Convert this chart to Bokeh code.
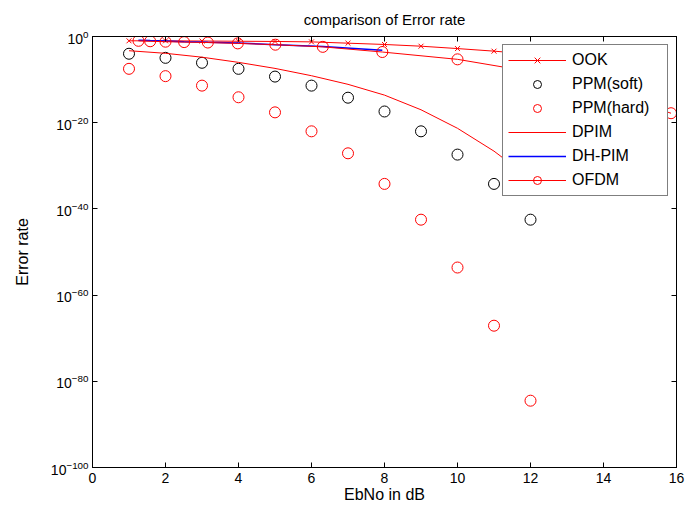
import numpy as np
from bokeh.plotting import figure
from bokeh.models import FixedTicker, LogAxis, LinearAxis, Legend, LegendItem
from bokeh.embed import file_html
from bokeh.resources import INLINE

# ---- data (exponents of 10) ----
ebno = [1, 2, 3, 4, 5, 6, 7, 8, 9, 10, 11, 12]
ppm_soft_exp = [-4.0, -4.95, -6.1, -7.5, -9.3, -11.4, -14.2, -17.4, -22.0, -27.4, -34.2, -42.5]
ppm_hard_exp = [-7.5, -9.2, -11.4, -14.1, -17.6, -22.0, -27.1, -34.2, -42.5, -53.6, -67.1, -84.5]
dpim_exp = [-3.3, -3.9, -4.8, -6.0, -7.4, -9.1, -11.1, -13.6, -17.0, -21.3, -26.6, -33.0]
ook_exp = [-1.0, -1.0, -1.05, -1.1, -1.15, -1.25, -1.55, -1.85, -2.25, -2.8, -3.4, -4.1]
ofdm_x = [1.26, 1.58, 2.0, 2.51, 3.16, 3.98, 5.01, 6.31, 7.94, 10.0, 12.59, 15.85]
ofdm_exp = [-1.0, -1.1, -1.2, -1.3, -1.4, -1.6, -1.9, -2.4, -3.6, -5.3, -9.0, -17.8]
dhpim_x = [1.26, 1.58, 2.0, 2.51, 3.16, 3.98, 5.01, 6.31, 7.94]
dhpim_exp = [-0.85, -0.95, -1.05, -1.2, -1.35, -1.5, -1.9, -2.3, -3.2]

x_ticks = [0, 2, 4, 6, 8, 10, 12, 14, 16]
y_tick_exps = [-100, -80, -60, -40, -20, 0]

def pw(e):
    return list(10.0 ** np.array(e, dtype=float))

FONT = "Liberation Sans"
FS = "14px"
FL = "16px"

p = figure(width=696, height=511, x_range=(0, 16), y_range=(1e-100, 1.0),
           y_axis_type="log", output_backend="svg", toolbar_location=None,
           title="comparison of Error rate",
           min_border_left=92, min_border_right=20, min_border_top=36, min_border_bottom=44)
p.background_fill_color = "white"
p.border_fill_color = "white"
p.outline_line_color = "black"
p.grid.visible = False

p.title.align = "center"
p.title.text_font = FONT
p.title.text_font_size = "15px"
p.title.text_font_style = "normal"
p.title.text_color = "black"
p.title.standoff = 17

yt = FixedTicker(ticks=[10.0 ** e for e in y_tick_exps])
xt = FixedTicker(ticks=x_ticks)

def style_axis(ax):
    ax.major_tick_in = 5
    ax.major_tick_out = 0
    ax.minor_tick_line_color = None
    ax.axis_line_color = "black"
    ax.major_tick_line_color = "black"
    ax.major_label_text_font = FONT
    ax.major_label_text_font_size = FS
    ax.major_label_text_color = "black"
    ax.axis_label_text_font = FONT
    ax.axis_label_text_font_size = FL
    ax.axis_label_text_font_style = "normal"
    ax.axis_label_text_color = "black"

p.xaxis.ticker = xt
p.yaxis.ticker = yt
p.xaxis.axis_label = "EbNo in dB"
p.yaxis.axis_label = "Error rate"
style_axis(p.xaxis[0])
style_axis(p.yaxis[0])
p.xaxis.major_label_standoff = 5
p.yaxis.major_label_standoff = 4
p.xaxis.axis_label_standoff = 0
p.yaxis.axis_label_standoff = 17

top = LinearAxis(ticker=xt)
right = LogAxis(ticker=yt)
for ax in (top, right):
    style_axis(ax)
    ax.major_label_text_font_size = "2px"
    ax.major_label_text_color = None
    ax.major_label_standoff = 0
p.add_layout(top, "above")
p.add_layout(right, "right")

# ---- series ----
r_ook_l = p.line(ebno, pw(ook_exp), line_color="red", line_width=1)
r_ook_m = p.scatter(ebno, pw(ook_exp), marker="x", size=7, line_color="red", line_width=1)
r_soft = p.scatter(ebno, pw(ppm_soft_exp), marker="circle", size=11, fill_color=None,
                   line_color="black", line_width=1)
r_hard = p.scatter(ebno, pw(ppm_hard_exp), marker="circle", size=11, fill_color=None,
                   line_color="red", line_width=1)
r_dpim = p.line(ebno, pw(dpim_exp), line_color="red", line_width=1)
r_dh = p.line(dhpim_x, pw(dhpim_exp), line_color="blue", line_width=1.5)
r_of_l = p.line(ofdm_x, pw(ofdm_exp), line_color="red", line_width=1)
r_of_m = p.scatter(ofdm_x, pw(ofdm_exp), marker="circle", size=11, fill_color=None,
                   line_color="red", line_width=1)

legend = Legend(items=[
    LegendItem(label="OOK", renderers=[r_ook_l, r_ook_m]),
    LegendItem(label="PPM(soft)", renderers=[r_soft]),
    LegendItem(label="PPM(hard)", renderers=[r_hard]),
    LegendItem(label="DPIM", renderers=[r_dpim]),
    LegendItem(label="DH-PIM", renderers=[r_dh]),
    LegendItem(label="OFDM", renderers=[r_of_l, r_of_m]),
], location="top_right")
legend.margin = 8
legend.padding = 5
legend.spacing = 4
legend.glyph_width = 58
legend.glyph_height = 20
legend.label_height = 20
legend.label_width = 90
legend.label_standoff = 6
legend.label_text_font = FONT
legend.label_text_font_size = "16px"
legend.label_text_color = "black"
legend.border_line_color = "black"
legend.border_line_width = 1
legend.background_fill_color = "white"
legend.background_fill_alpha = 1.0
p.add_layout(legend, "center")

open("out.html", "w").write(file_html(p, INLINE))
